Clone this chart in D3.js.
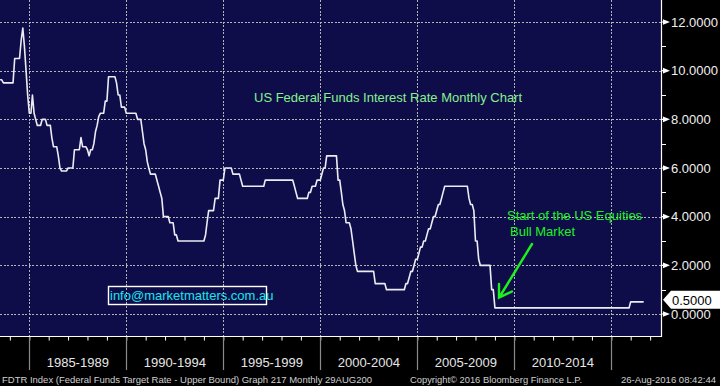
<!DOCTYPE html>
<meta charset="utf-8">
<style>
body { margin: 0; background: #000; }
svg { display: block; font-family: "Liberation Sans", Arial, sans-serif; }
.grid line { stroke: #b4b4b4; stroke-width: 1; stroke-dasharray: 2,1.6; shape-rendering: crispEdges; }
.rate { fill: none; stroke: #ececf4; stroke-width: 1.6; stroke-linejoin: round; }
.ylab { fill: #f0f0f0; font-size: 13px; }
.xlab { fill: #e6e6e6; font-size: 13px; text-anchor: middle; }
.foot { fill: #cfcfcf; font-size: 9.6px; }
</style>
<svg id="chart" width="720" height="386"></svg>
<script src="https://d3js.org/d3.v7.min.js"></script>
<script>
// FDTR monthly readings, first one plotted at July 1983
var startYear = 1983, startMonth = 6;
var rates = [
  9.625, 9.625, 9.5, 9.5, 9.5, 9.5,
  9.5, 9.5, 9.5, 10.5, 10.5, 10.5, 10.5, 11.25, 11.75, 11.0, 10.0, 9.0,
  8.25, 8.25, 9.0, 8.25, 8.0, 7.75, 7.75, 7.75, 8.0, 8.0, 8.0, 7.75,
  7.75, 7.75, 7.25, 6.875, 6.875, 6.875, 6.5, 6.0, 5.875, 5.875, 5.875, 5.875,
  6.0, 6.0, 6.0, 6.0, 6.75, 6.75, 6.75, 6.75, 7.25, 6.875, 6.875, 6.875,
  6.75, 6.5, 6.75, 6.75, 7.0, 7.5, 7.75, 8.125, 8.25, 8.25, 8.25, 8.75,
  8.75, 9.75, 9.75, 9.75, 9.75, 9.75, 9.5, 9.0, 9.0, 8.5, 8.5, 8.5,
  8.25, 8.25, 8.25, 8.25, 8.25, 8.25, 8.25, 8.0, 8.0, 8.0, 7.5, 7.0,
  6.75, 6.25, 6.0, 5.75, 5.75, 5.75, 5.75, 5.5, 5.25, 5.0, 4.75, 4.0,
  4.0, 4.0, 4.0, 3.75, 3.75, 3.75, 3.25, 3.25, 3.0, 3.0, 3.0, 3.0,
  3.0, 3.0, 3.0, 3.0, 3.0, 3.0, 3.0, 3.0, 3.0, 3.0, 3.0, 3.0,
  3.0, 3.25, 3.75, 4.25, 4.25, 4.25, 4.25, 4.75, 4.75, 4.75, 5.5, 5.5,
  5.5, 6.0, 6.0, 6.0, 6.0, 6.0, 5.75, 5.75, 5.75, 5.75, 5.75, 5.5,
  5.25, 5.25, 5.25, 5.25, 5.25, 5.25, 5.25, 5.25, 5.25, 5.25, 5.25, 5.25,
  5.25, 5.25, 5.5, 5.5, 5.5, 5.5, 5.5, 5.5, 5.5, 5.5, 5.5, 5.5,
  5.5, 5.5, 5.5, 5.5, 5.5, 5.5, 5.5, 5.5, 5.25, 5.0, 4.75, 4.75,
  4.75, 4.75, 4.75, 4.75, 4.75, 5.0, 5.0, 5.25, 5.25, 5.25, 5.5, 5.5,
  5.5, 5.75, 6.0, 6.0, 6.5, 6.5, 6.5, 6.5, 6.5, 6.5, 6.5, 5.5,
  5.5, 5.0, 4.5, 4.25, 3.75, 3.75, 3.75, 3.5, 3.0, 2.5, 2.0, 1.75,
  1.75, 1.75, 1.75, 1.75, 1.75, 1.75, 1.75, 1.75, 1.75, 1.75, 1.25, 1.25,
  1.25, 1.25, 1.25, 1.25, 1.25, 1.0, 1.0, 1.0, 1.0, 1.0, 1.0, 1.0,
  1.0, 1.0, 1.0, 1.0, 1.0, 1.25, 1.25, 1.5, 1.75, 1.75, 2.0, 2.25,
  2.25, 2.5, 2.75, 2.75, 3.0, 3.0, 3.25, 3.5, 3.5, 3.75, 4.0, 4.0,
  4.25, 4.5, 4.5, 4.75, 5.0, 5.25, 5.25, 5.25, 5.25, 5.25, 5.25, 5.25,
  5.25, 5.25, 5.25, 5.25, 5.25, 5.25, 5.25, 5.25, 4.75, 4.5, 4.5, 4.25,
  3.0, 3.0, 2.25, 2.0, 2.0, 2.0, 2.0, 2.0, 2.0, 2.0, 1.0, 1.0,
  0.25, 0.25, 0.25, 0.25, 0.25, 0.25, 0.25, 0.25, 0.25, 0.25, 0.25, 0.25,
  0.25, 0.25, 0.25, 0.25, 0.25, 0.25, 0.25, 0.25, 0.25, 0.25, 0.25, 0.25,
  0.25, 0.25, 0.25, 0.25, 0.25, 0.25, 0.25, 0.25, 0.25, 0.25, 0.25, 0.25,
  0.25, 0.25, 0.25, 0.25, 0.25, 0.25, 0.25, 0.25, 0.25, 0.25, 0.25, 0.25,
  0.25, 0.25, 0.25, 0.25, 0.25, 0.25, 0.25, 0.25, 0.25, 0.25, 0.25, 0.25,
  0.25, 0.25, 0.25, 0.25, 0.25, 0.25, 0.25, 0.25, 0.25, 0.25, 0.25, 0.25,
  0.25, 0.25, 0.25, 0.25, 0.25, 0.25, 0.25, 0.25, 0.25, 0.25, 0.25, 0.25,
  0.5, 0.5, 0.5, 0.5, 0.5, 0.5, 0.5, 0.5, 0.5
];
var yTicks = [0, 2, 4, 6, 8, 10, 12];
var yMinor = [1, 3, 5, 7, 9, 11];
var gridYears = [1985, 1990, 1995, 2000, 2005, 2010, 2015];
var periodLabels = ["1985-1989", "1990-1994", "1995-1999", "2000-2004", "2005-2009", "2010-2014"];
var title = "US Federal Funds Interest Rate Monthly Chart";
var note = ["Start of the US Equities", "Bull Market"];
var contact = "info@marketmatters.com.au";
var footLeft = "FDTR Index (Federal Funds Target Rate - Upper Bound) Graph 217  Monthly 29AUG200";
var footMid = "Copyright\u00a9 2016 Bloomberg Finance L.P.";
var footRight = "26-Aug-2016 08:42:44";

var svg = d3.select("svg#chart");
var plotW = 661, plotH = 336;

var x = d3.scaleTime()
    .domain([new Date(1985, 0, 1), new Date(2015, 0, 1)])
    .range([29.3, 611.3]);
var y = d3.scaleLinear().domain([0, 12]).range([314, 22]);

var data = rates.map(function(v, i) {
  return { date: new Date(startYear, startMonth + i, 1), value: v };
});

// plot background
svg.append("rect").attr("width", plotW).attr("height", plotH).attr("fill", "#0f0d49");

svg.append("clipPath").attr("id", "plotclip")
  .append("rect").attr("width", plotW).attr("height", plotH);

// grid
var grid = svg.append("g").attr("class", "grid");
grid.selectAll("line.h").data(yTicks).enter().append("line")
    .attr("x1", 0).attr("x2", plotW)
    .attr("y1", function(d) { return Math.round(y(d)) + 0.5; })
    .attr("y2", function(d) { return Math.round(y(d)) + 0.5; });
grid.selectAll("line.v").data(gridYears).enter().append("line")
    .attr("y1", 0).attr("y2", plotH)
    .attr("x1", function(d) { return Math.round(x(new Date(d, 0, 1))) + 0.5; })
    .attr("x2", function(d) { return Math.round(x(new Date(d, 0, 1))) + 0.5; });

// rate line
svg.append("path")
    .datum(data)
    .attr("class", "rate")
    .attr("clip-path", "url(#plotclip)")
    .attr("d", d3.line().x(function(d) { return x(d.date); }).y(function(d) { return y(d.value); }));

// title + annotations
svg.append("text").attr("x", 254).attr("y", 101.7)
    .attr("fill", "#86f08e").style("font-size", "13px").text(title);

svg.append("text").attr("x", 507).attr("y", 219.5)
    .attr("fill", "#1ef01e").style("font-size", "13px").text(note[0]);
svg.append("text").attr("x", 510).attr("y", 235.5)
    .attr("fill", "#1ef01e").style("font-size", "13px").text(note[1]);
svg.append("path")
    .attr("d", "M532,244 L499.5,297 M499,284 L499,297.5 L512,291.5")
    .attr("fill", "none").attr("stroke", "#1ef01e").attr("stroke-width", 2.4)
    .attr("stroke-linecap", "round");

svg.append("rect").attr("x", 108.5).attr("y", 286.5).attr("width", 158).attr("height", 18)
    .attr("fill", "none").attr("stroke", "#ffffff").attr("stroke-width", 1.4);
svg.append("text").attr("x", 110).attr("y", 299.5)
    .attr("fill", "#19e6ec").style("font-size", "13px").text(contact);

// plot frame (right + bottom)
svg.append("path")
    .attr("d", "M" + (plotW + 0.5) + ",0 V" + (plotH + 0.5) + " H0")
    .attr("fill", "none").attr("stroke", "#ffffff").attr("stroke-width", 1.2);

// right axis
var yAxis = svg.append("g");
yAxis.selectAll("line.minor").data(yMinor).enter().append("line")
    .attr("x1", plotW).attr("x2", plotW + 5)
    .attr("y1", function(d) { return Math.round(y(d)) + 0.5; })
    .attr("y2", function(d) { return Math.round(y(d)) + 0.5; })
    .attr("stroke", "#fff");
yAxis.selectAll("path.tri").data(yTicks).enter().append("path")
    .attr("d", function(d) {
      var yy = y(d);
      return "M" + plotW + "," + (yy - 0.6) + " H663 L663," + (yy - 2.8) + " L670," + yy +
             " L663," + (yy + 2.8) + " L663," + (yy + 0.6) + " H" + plotW + " Z";
    })
    .attr("fill", "#fff");
yAxis.selectAll("text").data(yTicks).enter().append("text")
    .attr("class", "ylab")
    .attr("x", 671)
    .attr("y", function(d) { return y(d) + 4.7; })
    .text(d3.format(".4f"));

// last value marker
var last = rates[rates.length - 1];
var ly = y(last) - 2;
svg.append("path")
    .attr("d", "M663," + ly + " L671," + (ly - 9) + " H720 V" + (ly + 9) + " H671 Z")
    .attr("fill", "#ffffff");
svg.append("text").attr("x", 672).attr("y", ly + 4.7)
    .attr("fill", "#000").style("font-size", "13px").text(d3.format(".4f")(last));

// bottom axis: yearly ticks
var xAxis = d3.axisBottom(x)
    .tickValues(d3.timeYear.range(new Date(1984, 0, 1), new Date(2018, 0, 1)))
    .tickSize(4).tickFormat("");
var xg = svg.append("g").attr("transform", "translate(0," + (plotH + 0.5) + ")").call(xAxis);
xg.select(".domain").remove();
xg.selectAll(".tick line").attr("stroke", "#fff");

// five year separators
svg.selectAll("line.sep").data(gridYears).enter().append("line")
    .attr("x1", function(d) { return Math.round(x(new Date(d, 0, 1))) + 0.5; })
    .attr("x2", function(d) { return Math.round(x(new Date(d, 0, 1))) + 0.5; })
    .attr("y1", plotH + 1).attr("y2", 370)
    .attr("stroke", "#8a8a8a").attr("stroke-width", 1.2);

svg.selectAll("text.xlab").data(periodLabels).enter().append("text")
    .attr("class", "xlab")
    .attr("x", function(d, i) {
      return (x(new Date(gridYears[i], 0, 1)) + x(new Date(gridYears[i + 1], 0, 1))) / 2;
    })
    .attr("y", 366.5)
    .text(function(d) { return d; });

// footer
svg.append("text").attr("class", "foot").attr("x", 2).attr("y", 382.5)
    .attr("textLength", 370).attr("lengthAdjust", "spacingAndGlyphs").text(footLeft);
svg.append("text").attr("class", "foot").attr("x", 410).attr("y", 382.5)
    .attr("textLength", 172).attr("lengthAdjust", "spacingAndGlyphs").text(footMid);
svg.append("text").attr("class", "foot").attr("x", 621).attr("y", 382.5)
    .attr("textLength", 95).attr("lengthAdjust", "spacingAndGlyphs").text(footRight);
</script>
